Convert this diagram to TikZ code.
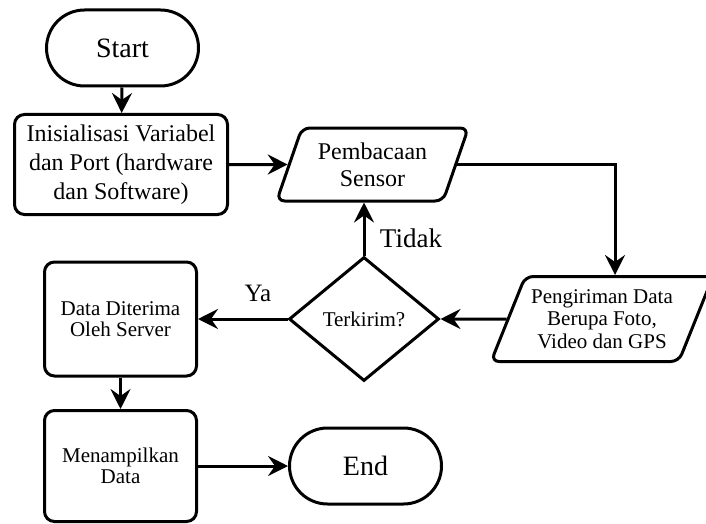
\documentclass[tikz,border=0pt]{standalone}
\usepackage{fontspec}
\setmainfont{Liberation Serif}
\usetikzlibrary{arrows.meta,shapes.geometric,calc}
\begin{document}
\begin{tikzpicture}[x=1pt,y=-1pt,
  lw/.style={line width=3pt},
  term/.style={lw,draw,rounded corners=38pt,minimum width=152pt,minimum height=76pt,inner sep=0pt,font=\fontsize{28}{30}\selectfont},
  proc/.style={lw,draw,rounded corners=10pt,inner sep=0pt,align=center},
  io/.style={lw,draw,trapezium,trapezium stretches=true,rounded corners=8pt,inner sep=0pt,align=center},
  dec/.style={lw,draw,diamond,inner sep=0pt,minimum width=150pt,minimum height=124pt,font=\fontsize{21}{22}\selectfont},
  arr/.style={lw,-{Stealth[length=20pt,width=20pt,inset=7pt]}},
  lbl/.style={inner sep=0pt}
]
\path[use as bounding box] (0,0) rectangle (706,524);

\node[term] (start) at (122.5,48) {Start};
\node[proc,minimum width=213pt,minimum height=100pt,font=\fontsize{24}{29}\selectfont] (init) at (121,164.5) {Inisialisasi Variabel\\dan Port (hardware\\dan Software)};
\node[io,trapezium left angle=66,trapezium right angle=114,minimum width=192pt,minimum height=73pt,font=\fontsize{24}{27}\selectfont] (pemb) at (372.5,164.5) {Pembacaan\\Sensor};
\node[io,trapezium left angle=62,trapezium right angle=118,minimum width=222pt,minimum height=85pt,font=\fontsize{21}{22.5}\selectfont] (peng) at (602,319) {Pengiriman Data\\Berupa Foto,\\Video dan GPS};
\node[dec] (dec) at (364,319) {Terkirim?};
\node[proc,minimum width=152pt,minimum height=114pt,font=\fontsize{21}{21}\selectfont] (terima) at (120.5,319) {Data Diterima\\Oleh Server};
\node[proc,minimum width=152pt,minimum height=111pt,font=\fontsize{21}{21}\selectfont] (tampil) at (120.5,466) {Menampilkan\\Data};
\node[term] (end) at (365.5,466) {End};

\node[lbl,font=\fontsize{27}{27}\selectfont] (tidak) at (411,238) {Tidak};
\node[lbl,font=\fontsize{25}{25}\selectfont] (ya) at (258,293) {Ya};

\draw[arr] (start) -- (init);
\draw[arr] (init) -- (pemb);
\draw[arr] (pemb) -| ([xshift=13pt]peng.north);
\draw[arr] (peng) -- (dec);
\draw[arr] (dec) -- (terima);
\draw[arr] (dec.north) -- (dec.north |- pemb.south);
\draw[arr] (terima) -- (tampil);
\draw[arr] (tampil) -- (end);
\end{tikzpicture}
\end{document}
